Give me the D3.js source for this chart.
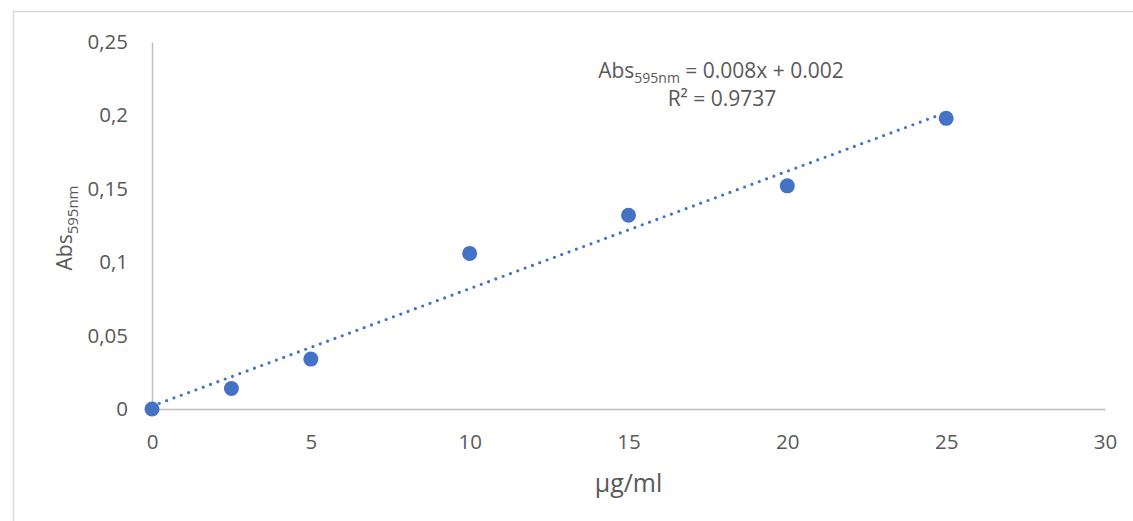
<!DOCTYPE html>
<html>
<head>
<meta charset="utf-8">
<script src="https://cdn.jsdelivr.net/npm/d3@7"></script>
<style>
  html, body { margin: 0; padding: 0; background: #fff; }
  text { font-family: "Open Sans", sans-serif; fill: #595959; }
</style>
</head>
<body>
<div class="chart"></div>
<script>
// Data
const concentrations = [0, 2.5, 5, 10, 15, 20, 25];
const absorbances = [0, 0.014, 0.034, 0.106, 0.132, 0.152, 0.198];
const xTicks = [0, 5, 10, 15, 20, 25, 30];
const yTicks = [0, 0.05, 0.1, 0.15, 0.2, 0.25];
const trendSlope = 0.008;
const trendIntercept = 0.002;
const rSquared = '0.9737';

const width = 1133;
const height = 521;
const margin = {top: 42, right: 28, bottom: 112, left: 152};
const inner_width = width - margin.left - margin.right;
const inner_height = height - margin.top - margin.bottom;

const svg = d3.select('.chart').append('svg')
    .attr('width', width)
    .attr('height', height);

// Chart area border (only top and left visible)
svg.append('path')
    .attr('d', `M13.5,${height} V11.5 H${width}`)
    .attr('fill', 'none')
    .attr('stroke', '#d9d9d9')
    .attr('stroke-width', 1.5);

const xScale = d3.scaleLinear().domain([0, 30]).range([0, inner_width]);
const yScale = d3.scaleLinear().domain([0, 0.25]).range([inner_height, 0]);

const chart = svg.append('g').attr('transform', `translate(${margin.left}, ${margin.top})`);

const fmt = d => d3.format('~g')(d).replace('.', ',');

// Y axis
chart.append('g')
    .call(d3.axisLeft(yScale).tickValues(yTicks).tickFormat(fmt).tickSize(0).tickPadding(24))
    .call(g => g.select('.domain').attr('stroke', '#bfbfbf').attr('stroke-width', 1.5))
    .call(g => g.selectAll('text')
        .style('font-size', '20.5px')
        .style('font-family', '"Open Sans", sans-serif')
        .attr('fill', '#595959'));

// X axis
chart.append('g')
    .attr('transform', `translate(0, ${inner_height})`)
    .call(d3.axisBottom(xScale).tickValues(xTicks).tickFormat(d3.format('d')).tickSize(0).tickPadding(25))
    .call(g => g.select('.domain').attr('stroke', '#bfbfbf').attr('stroke-width', 1.5))
    .call(g => g.selectAll('text')
        .style('font-size', '20.5px')
        .style('font-family', '"Open Sans", sans-serif')
        .attr('fill', '#595959'));

// Trend line
const x0 = d3.min(concentrations), x1 = d3.max(concentrations);
chart.append('line')
    .attr('x1', xScale(x0))
    .attr('y1', yScale(trendIntercept + trendSlope * x0))
    .attr('x2', xScale(x1))
    .attr('y2', yScale(trendIntercept + trendSlope * x1))
    .attr('stroke', '#4472c4')
    .attr('stroke-width', 3.2)
    .attr('stroke-linecap', 'round')
    .attr('stroke-dasharray', '0 7.8');

// Points
chart.append('g')
    .selectAll('circle')
    .data(concentrations)
    .join('circle')
        .attr('cx', d => xScale(d))
        .attr('cy', (_, i) => yScale(absorbances[i]))
        .attr('r', 7.5)
        .attr('fill', '#4472c4');

// Equation label
const eq = svg.append('text')
    .attr('x', 721)
    .attr('y', 78)
    .attr('text-anchor', 'middle')
    .style('font-size', '21px');
eq.append('tspan').text('Abs');
eq.append('tspan').attr('dy', 5).style('font-size', '14px').text('595nm');
eq.append('tspan').attr('dy', -5).text(` = ${trendSlope}x + ${trendIntercept}`);

svg.append('text')
    .attr('x', 722)
    .attr('y', 106)
    .attr('text-anchor', 'middle')
    .style('font-size', '21px')
    .text(`R² = ${rSquared}`);

// Axis titles
svg.append('text')
    .attr('x', margin.left + xScale(15))
    .attr('y', 492)
    .attr('text-anchor', 'middle')
    .style('font-size', '25px')
    .text('µg/ml');

const yt = svg.append('text')
    .attr('transform', 'translate(72, 228) rotate(-90)')
    .attr('text-anchor', 'middle')
    .style('font-size', '21px');
yt.append('tspan').text('Abs');
yt.append('tspan').attr('dy', 6).style('font-size', '15px').text('595nm');
</script>
</body>
</html>
